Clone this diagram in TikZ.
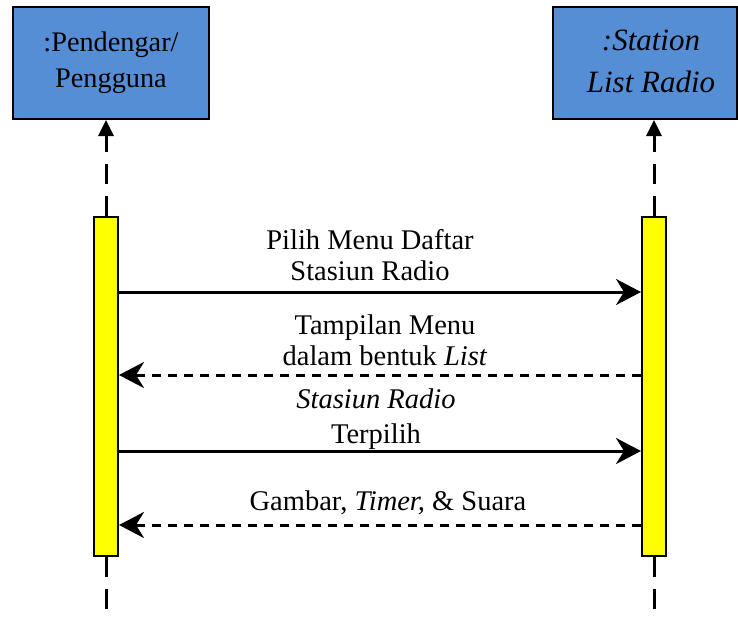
\documentclass[tikz,border=0pt]{standalone}
\usepackage{fontspec}
\setmainfont{Liberation Serif}
\usepackage{tikz}
\usetikzlibrary{arrows.meta,positioning,calc}
\definecolor{boxblue}{HTML}{558ED5}
\definecolor{baryellow}{HTML}{FFFF00}

\begin{document}
\begin{tikzpicture}[x=1pt, y=-1pt,
    objbox/.style={draw=black, line width=2pt, fill=boxblue, inner sep=0pt, align=center},
    actbar/.style={draw=black, line width=2pt, fill=baryellow, minimum width=24pt, minimum height=339pt, inner sep=0pt},
    lifeline/.style={line width=3pt, dash pattern=on 20pt off 12pt},
    msgcall/.style={line width=3pt, -{Stealth[length=25pt,width=26pt,inset=8pt]}},
    msgreply/.style={msgcall, dash pattern=on 9pt off 7pt},
    msgtext/.style={align=center, font=\fontsize{28.5}{31}\selectfont, inner sep=0pt}]
  \useasboundingbox (0,0) rectangle (738,616);
  % Objects
  \node[objbox, minimum width=196pt, minimum height=112pt,
        font=\fontsize{28.3}{36}\selectfont] (user) at (111,63) {:Pendengar/\\Pengguna};
  \node[objbox, minimum width=184pt, minimum height=112pt] (radio) at (645,63) {};
  \node[align=center, inner sep=0pt, font=\fontsize{31}{42}\selectfont\itshape]
        (radiotext) at ([xshift=6pt,yshift=2pt]radio.center) {:Station\\List Radio};
  % Activation bars
  \node[actbar] (barA) at (106,386.5) {};
  \node[actbar] (barB) at (654,386.5) {};
  \coordinate (endA) at (106,616);
  \coordinate (endB) at (654,616);
  % Lifelines
  \draw[lifeline, -{Triangle[length=16pt,width=15pt]}] (barA.north) -- (barA.north |- user.south);
  \draw[lifeline, -{Triangle[length=16pt,width=15pt]}] (barB.north) -- (barB.north |- radio.south);
  \draw[lifeline] (barA.south) -- (endA);
  \draw[lifeline] (barB.south) -- (endB);
  % Messages
  \draw[msgcall]  ([yshift=-76pt]barA.north east) -- ([yshift=-76pt]barB.north west);
  \draw[msgreply] ([yshift=-159pt]barB.north west) -- ([yshift=-159pt]barA.north east);
  \draw[msgcall]  ([yshift=-235pt]barA.north east) -- ([yshift=-235pt]barB.north west);
  \draw[msgreply] ([yshift=-309pt]barB.north west) -- ([yshift=-309pt]barA.north east);
  % Labels
  \node[msgtext] (lblA) at (370,255) {Pilih Menu Daftar\\Stasiun Radio};
  \node[msgtext] (lblB) at (385,340) {Tampilan Menu\\dalam bentuk \textit{List}};
  \node[msgtext, font=\fontsize{28.5}{35}\selectfont] (lblC) at (376,419) {\textit{Stasiun Radio}\\Terpilih};
  \node[msgtext, anchor=base] (lblD) at (388,510) {Gambar, \textit{Timer,} \& Suara};
\end{tikzpicture}
\end{document}
